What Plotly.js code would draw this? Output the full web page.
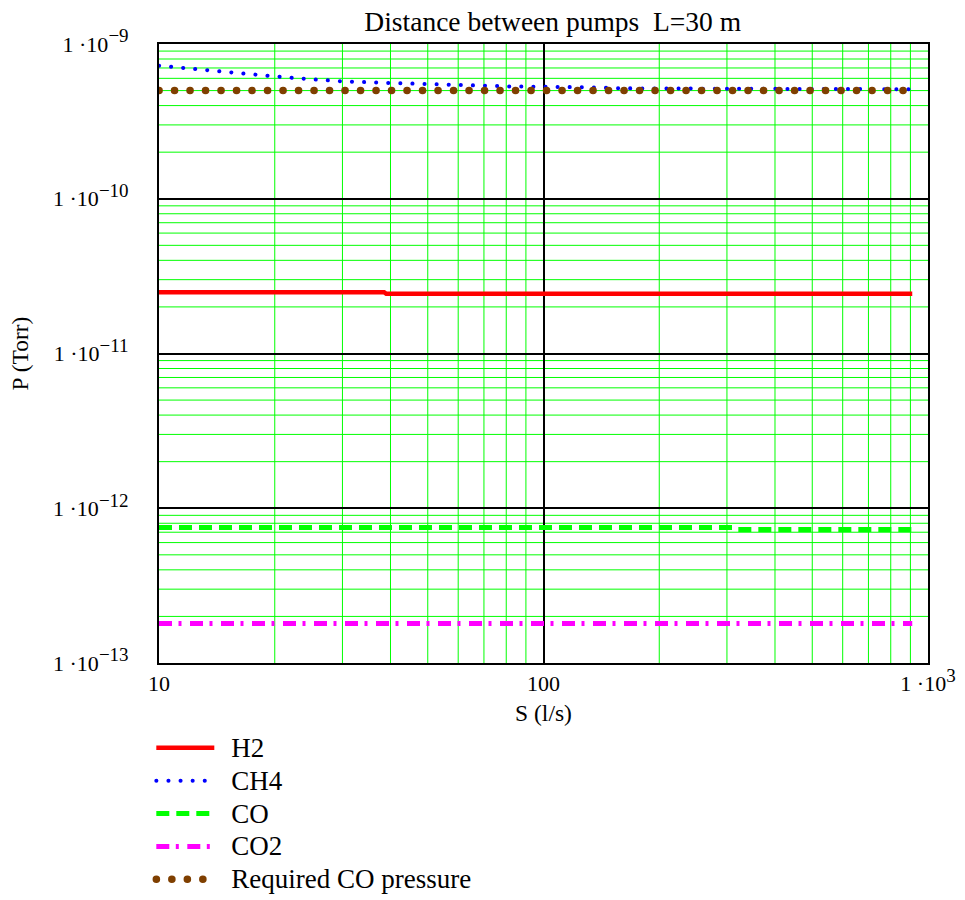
<!DOCTYPE html>
<html>
<head>
<meta charset="utf-8">
<script src="https://cdn.plot.ly/plotly-3.0.1.min.js"></script>
<style>
  body { margin: 0; background: #fff; }
  .scatterlayer .trace:nth-of-type(2) .js-line,
  .scatterlayer .trace:nth-of-type(5) .js-line,
  .legend .traces:nth-of-type(2) .js-line,
  .legend .traces:nth-of-type(5) .js-line { stroke-linecap: round; }
  .legend .legendtext { font-size: 27px !important; transform: translateX(12px); }
  .legend .scrollbox, .legend [clip-path] { clip-path: none !important; }
</style>
</head>
<body>
<div id="chart" style="width:965px;height:900px;"></div>
<script>
// ---- data ----
const seriesNames = ["H2", "CH4", "CO", "CO2", "Required CO pressure"];

const sH2 = [10, 38.5, 39, 910];
const pH2 = [2.49e-11, 2.49e-11, 2.43e-11, 2.43e-11];

const sCH4 = [10, 12.5, 15.5, 19.5, 25, 30, 40, 53, 82, 130, 160, 300, 500, 910];
const pCH4 = [7.24e-10, 6.86e-10, 6.53e-10, 6.21e-10, 5.91e-10, 5.74e-10, 5.60e-10, 5.46e-10, 5.32e-10, 5.25e-10, 5.17e-10, 5.14e-10, 5.12e-10, 5.10e-10];

const sCO = [10, 312, 316, 910];
const pCO = [7.5e-13, 7.5e-13, 7.3e-13, 7.3e-13];

const sCO2 = [10, 910];
const pCO2 = [1.8e-13, 1.8e-13];

const sReq = [10, 910];
const pReq = [5.0e-10, 5.0e-10];

const SUP = s => "<sup><span style='font-size:19px'>" + s + "</span></sup>";
const xTickVals = [10, 100, 1000];
const xTickText = ["10", "100", "1 ·10" + SUP("3")];
const yTickVals = [1e-13, 1e-12, 1e-11, 1e-10, 1e-9];
const yTickText = ["1 ·10" + SUP("−13"), "1 ·10" + SUP("−12"), "1 ·10" + SUP("−11"), "1 ·10" + SUP("−10"), "1 ·10" + SUP("−9")];

const titleText = "Distance between pumps  L=30 m";
const xTitle = "S (l/s)";
const yTitle = "P (Torr)";

// minor grid positions: digits 2..9 within each decade of the axis ranges
function minorVals(fromExp, toExp) {
  const out = [];
  for (let e = fromExp; e < toExp; e++) {
    for (let d = 2; d <= 9; d++) out.push(d * Math.pow(10, e));
  }
  return out;
}

const GRID_GREEN = "#00ff00";
const minorShapes = [];
minorVals(1, 3).forEach(v => minorShapes.push({
  type: "line", layer: "below", xref: "x", yref: "paper", x0: v, x1: v, y0: 0, y1: 1,
  line: { color: GRID_GREEN, width: 1 }
}));
minorVals(-13, -9).forEach(v => minorShapes.push({
  type: "line", layer: "below", xref: "paper", yref: "y", x0: 0, x1: 1, y0: v, y1: v,
  line: { color: GRID_GREEN, width: 1 }
}));

// ---- chart ----
const FONT = "Liberation Serif, Times New Roman, serif";

const traces = [
  { x: sH2, y: pH2, name: seriesNames[0], mode: "lines",
    line: { color: "#ff0000", width: 4.5 } },
  { x: sCH4, y: pCH4, name: seriesNames[1], mode: "lines",
    line: { color: "#0000ff", width: 4, dash: "0.1px,12px" } },
  { x: sCO, y: pCO, name: seriesNames[2], mode: "lines",
    line: { color: "#00ff00", width: 5, dash: "13px,7px" } },
  { x: sCO2, y: pCO2, name: seriesNames[3], mode: "lines",
    line: { color: "#ff00ff", width: 5, dash: "13px,6.5px,3px,8.5px" } },
  { x: sReq, y: pReq, name: seriesNames[4], mode: "lines",
    line: { color: "#7f3f00", width: 7.5, dash: "0.1px,15.4px" } }
];

const axisCommon = {
  type: "log", automargin: false,
  showline: true, mirror: true, linecolor: "#000", linewidth: 2,
  showgrid: true, gridcolor: "#000", gridwidth: 2,
  zeroline: false, ticks: "",
  tickmode: "array",
  tickfont: { family: FONT, size: 22, color: "#000" }
};

const layout = {
  width: 965, height: 900,
  margin: { l: 159, r: 37, t: 44, b: 237 },
  paper_bgcolor: "#fff", plot_bgcolor: "#fff",
  font: { family: FONT, color: "#000" },
  showlegend: true,
  shapes: minorShapes,
  title: { text: titleText, font: { family: FONT, size: 27.5, color: "#000" },
           xref: "paper", x: 0.512, xanchor: "center",
           yref: "container", y: 0.976, yanchor: "middle" },
  xaxis: Object.assign({}, axisCommon, {
    range: [1, 3], tickvals: xTickVals, ticktext: xTickText,
    title: { text: xTitle, font: { family: FONT, size: 23.5, color: "#000" }, standoff: 13 }
  }),
  yaxis: Object.assign({}, axisCommon, {
    range: [-13, -9], tickvals: yTickVals, ticktext: yTickText,
    ticklabelstandoff: 24,
    title: { text: yTitle, font: { family: FONT, size: 23.5, color: "#000" }, standoff: 18 }
  }),
  legend: {
    xref: "paper", x: -0.01, xanchor: "left",
    yref: "container", y: 0.193, yanchor: "top",
    font: { family: FONT, size: 23, color: "#000" },
    bgcolor: "rgba(0,0,0,0)", borderwidth: 0,
    itemwidth: 58, traceorder: "normal"
  }
};

Plotly.newPlot("chart", traces, layout, { displayModeBar: false, staticPlot: true });
</script>
</body>
</html>
